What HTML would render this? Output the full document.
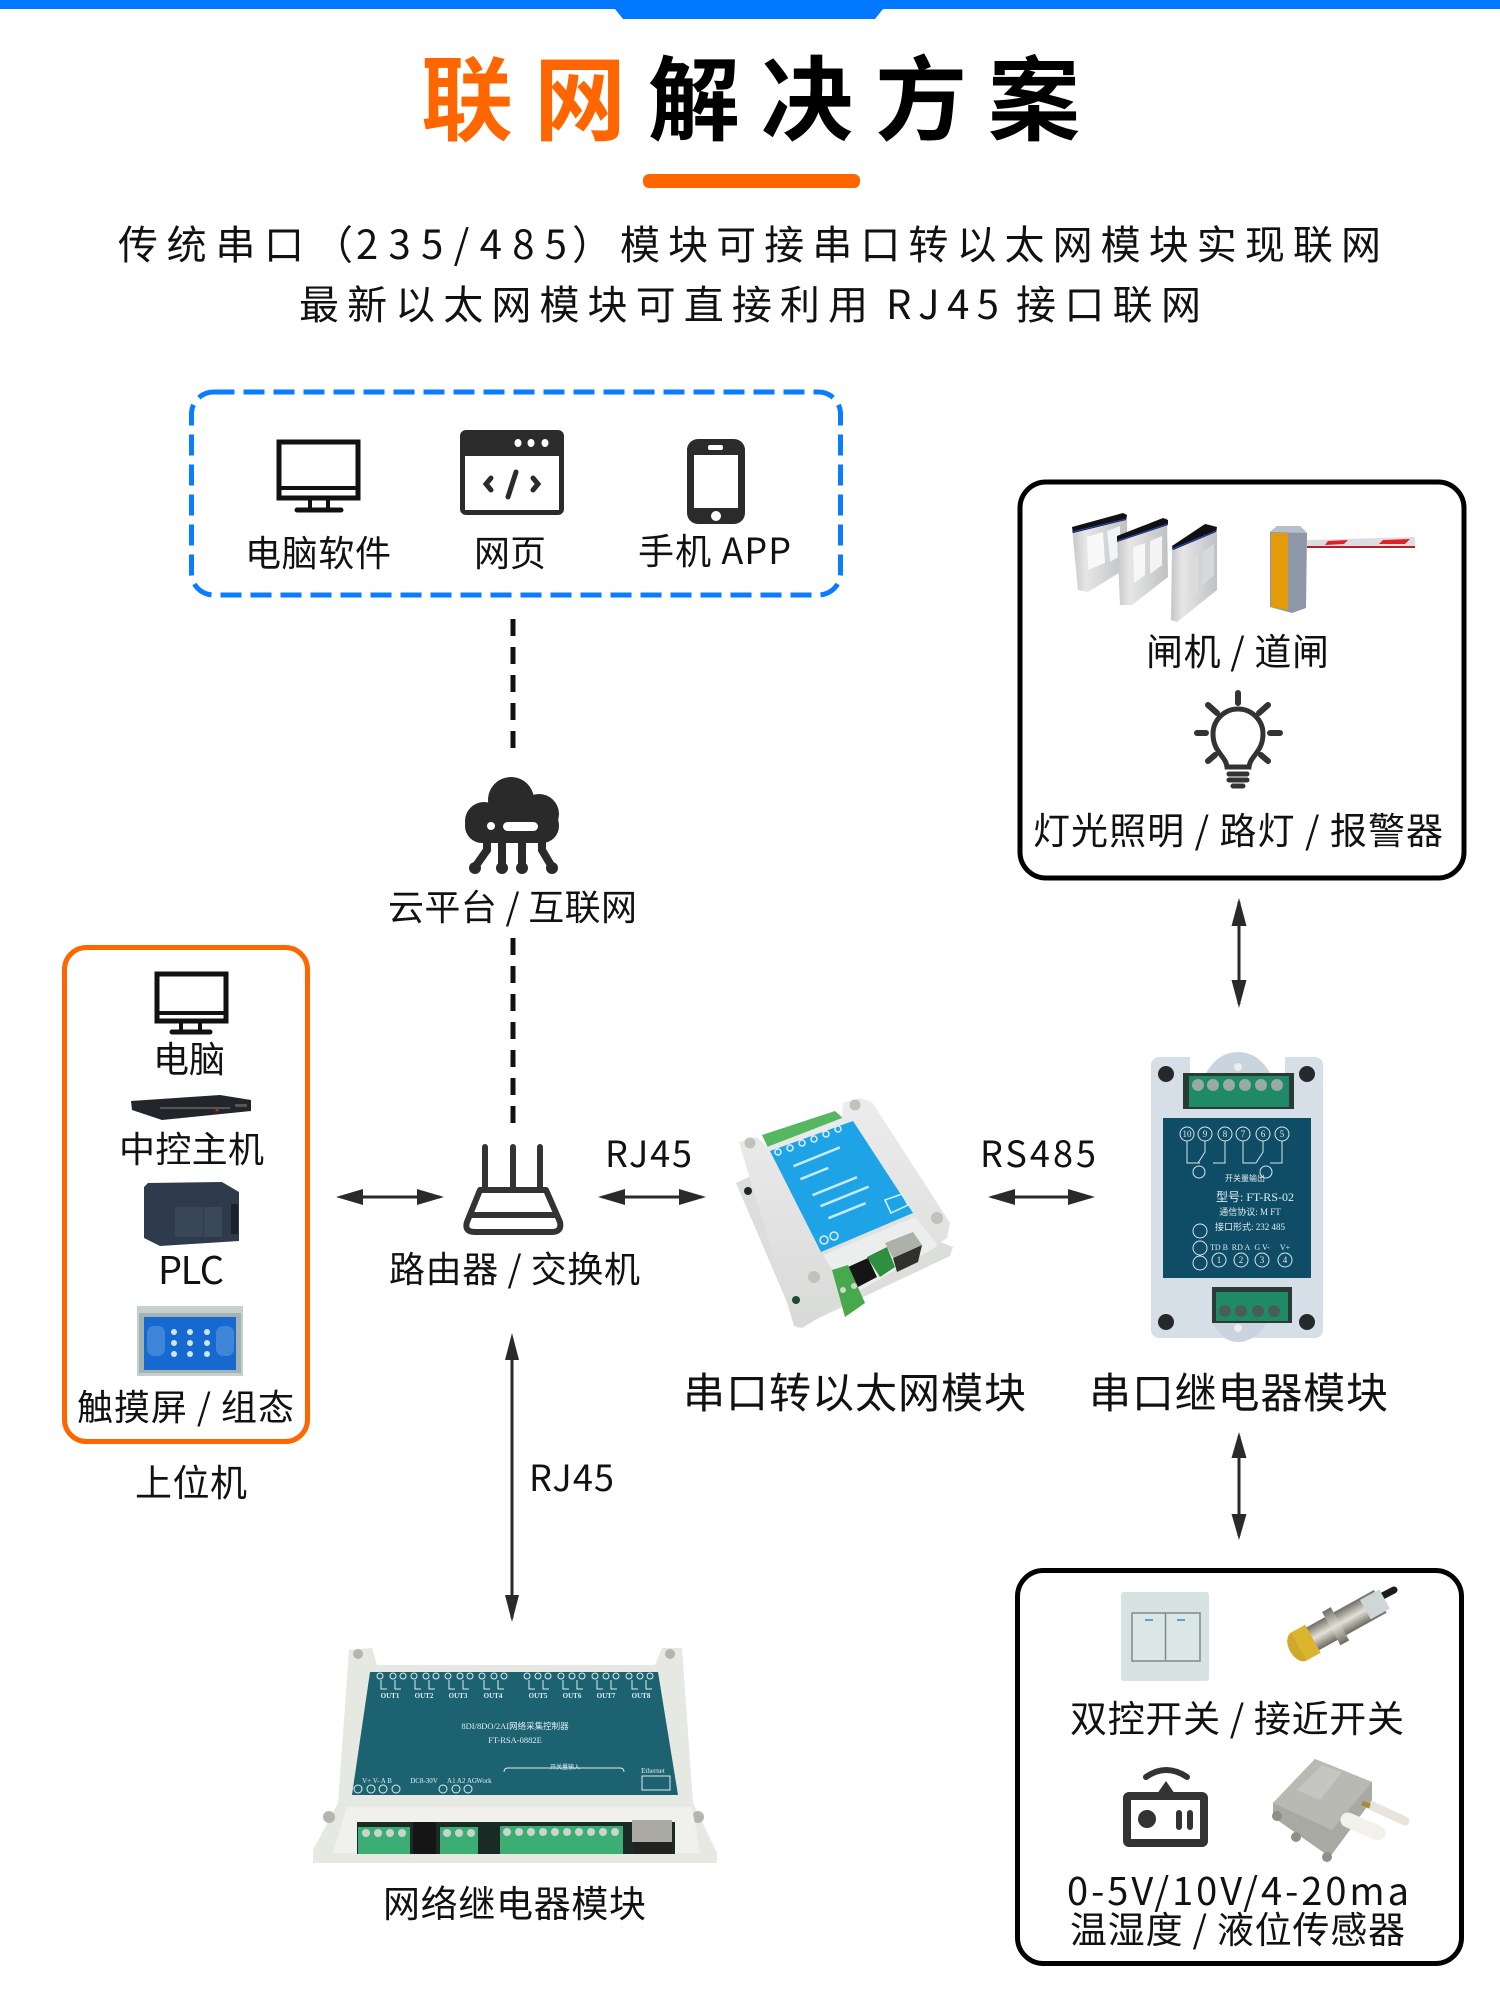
<!DOCTYPE html>
<html lang="zh"><head><meta charset="utf-8"><title>联网解决方案</title>
<style>
html,body{margin:0;padding:0;background:#fff}
svg{display:block}
text{font-family:"Noto Sans CJK SC","Liberation Sans",sans-serif;fill:#111}
.s{font-family:"Liberation Serif","Noto Sans CJK SC",serif;fill:#dfeef0}
</style></head><body>
<svg xmlns="http://www.w3.org/2000/svg" width="1500" height="2000" viewBox="0 0 1500 2000">
<defs>
<linearGradient id="metal" x1="0" y1="0" x2="1" y2="0"><stop offset="0" stop-color="#c4c5c6"/><stop offset=".25" stop-color="#e6e6e6"/><stop offset="1" stop-color="#bfc1c3"/></linearGradient>
<linearGradient id="case" x1="0" y1="0" x2="0" y2="1"><stop offset="0" stop-color="#ececec"/><stop offset="1" stop-color="#d8dad8"/></linearGradient>
<linearGradient id="cyl" x1="0" y1="0" x2="0" y2="1"><stop offset="0" stop-color="#6f6e66"/><stop offset=".5" stop-color="#e4e2d8"/><stop offset="1" stop-color="#6b6a60"/></linearGradient>
</defs>
<rect width="1500" height="2000" fill="#fff"/>

<!-- top bar -->
<rect x="0" y="0" width="1500" height="9" fill="#0078ff"/>
<polygon points="615,9 883,9 875,19 623,19" fill="#0078ff"/>

<!-- title -->
<g font-size="92" font-weight="700" text-anchor="middle">
<text x="467" y="133" style="fill:#ff6600">联</text>
<text x="580" y="133" style="fill:#ff6600">网</text>
<text x="694" y="133" style="fill:#000">解</text>
<text x="807" y="133" style="fill:#000">决</text>
<text x="921" y="133" style="fill:#000">方</text>
<text x="1034" y="133" style="fill:#000">案</text>
</g>
<rect x="643" y="174" width="217" height="14" rx="6" fill="#ff6600"/>
<g font-size="40">
<text x="118" y="259" textLength="186" lengthAdjust="spacing">传统串口</text>
<text x="313" y="259">（</text>
<text x="356" y="259" textLength="211" lengthAdjust="spacing">235/485</text>
<text x="572" y="259">）</text>
<text x="620" y="259" textLength="761" lengthAdjust="spacing">模块可接串口转以太网模块实现联网</text>
<text x="299" y="319" textLength="569" lengthAdjust="spacing">最新以太网模块可直接利用</text>
<text x="886" y="319" textLength="113" lengthAdjust="spacing">RJ45</text>
<text x="1016" y="319" textLength="185" lengthAdjust="spacing">接口联网</text>
</g>

<!-- software box -->
<rect x="191.500" y="392" width="649" height="203" rx="22" fill="none" stroke="#0a7cff" stroke-width="5" stroke-dasharray="21 9"/>
<g fill="none" stroke="#111" stroke-width="5">
<rect x="279" y="442" width="79" height="56"/>
<path d="M279 488H358" stroke-width="4"/>
<path d="M310 499v10M328 499v10" stroke-width="4"/>
<path d="M297 510H341" stroke-width="5" stroke-linecap="round"/>
</g>
<rect x="460" y="430" width="104" height="85" rx="6" fill="#2b2b2b"/>
<rect x="465" y="456" width="94" height="54" fill="#fff"/>
<g fill="#fff"><ellipse cx="518" cy="443" rx="3.500" ry="4"/><ellipse cx="531" cy="443" rx="3.500" ry="4"/><ellipse cx="545" cy="443" rx="3.500" ry="4"/></g>
<g fill="none" stroke="#2b2b2b" stroke-width="5" stroke-linecap="round"><path d="M491 478l-5 6 5 6M533 478l5 6-5 6M516 472l-8 25"/></g>
<rect x="687" y="439" width="58" height="85" rx="11" fill="#2b2b2b"/>
<rect x="694" y="455" width="44" height="53" fill="#fff"/>
<rect x="708" y="445" width="15" height="5" rx="2" fill="#fff"/>
<circle cx="716" cy="516" r="5" fill="#fff"/>
<text x="245" y="566" font-size="36" textLength="146" lengthAdjust="spacing">电脑软件</text>
<text x="474" y="566" font-size="36">网页</text>
<text x="638" y="564" font-size="36" textLength="153" lengthAdjust="spacing">手机 APP</text>

<!-- dashed link -->
<path d="M513 619V755M513 938V1130" stroke="#111" stroke-width="5" stroke-dasharray="17 11" fill="none"/>

<!-- cloud -->
<g fill="#2a2a2a">
<circle cx="484" cy="821" r="19"/><circle cx="511" cy="800" r="23"/><circle cx="539" cy="814" r="20"/>
<rect x="465" y="808" width="94" height="35" rx="17"/>
</g>
<rect x="503" y="822" width="35" height="9" rx="4.500" fill="#fff"/>
<circle cx="491" cy="826" r="4" fill="#fff"/>
<g fill="none" stroke="#2a2a2a" stroke-width="8">
<path d="M487 840v10l-12 17M502 840v28M522 840v28M542 840v10l10 17"/>
</g>
<g fill="#2a2a2a"><circle cx="475" cy="868" r="6"/><circle cx="502" cy="868" r="6"/><circle cx="522" cy="868" r="6"/><circle cx="552" cy="868" r="6"/></g>
<text x="388" y="920" font-size="36" textLength="249" lengthAdjust="spacing">云平台 / 互联网</text>

<!-- left group -->
<rect x="64.500" y="947.500" width="243" height="494" rx="22" fill="none" stroke="#ff6600" stroke-width="5"/>
<g fill="none" stroke="#111" stroke-width="5">
<rect x="157" y="974" width="69" height="47"/>
<path d="M157 1013H226" stroke-width="4"/>
<path d="M181 1022v9M200 1022v9" stroke-width="4"/>
<path d="M172 1032H210" stroke-linecap="round"/>
</g>
<text x="153" y="1072" font-size="36" textLength="72" lengthAdjust="spacing">电脑</text>
<polygon points="131,1101 220,1095 251,1100 251,1111 162,1120 132,1110" fill="#22262a"/>
<g fill="#555"><rect x="160" y="1107" width="70" height="2"/><rect x="235" y="1104" width="12" height="3"/></g>
<circle cx="217" cy="1110" r="1.500" fill="#c22"/>
<text x="119" y="1162" font-size="36" textLength="145" lengthAdjust="spacing">中控主机</text>
<polygon points="144,1187 148,1183 222,1182 239,1192 239,1241 160,1246 144,1238" fill="#2f3b4c"/>
<rect x="175" y="1207" width="28" height="30" fill="#384657"/><rect x="204" y="1207" width="18" height="30" fill="#3a4859"/>
<rect x="231" y="1204" width="7" height="30" fill="#1c222b"/>
<text x="158" y="1284" font-size="38" textLength="66" lengthAdjust="spacing">PLC</text>
<rect x="137" y="1306" width="106" height="70" fill="#c5d0cd"/>
<rect x="139" y="1313" width="102" height="60" fill="#a3b2b3"/>
<rect x="144" y="1317" width="92" height="53" fill="#1569cf"/>
<g fill="#cfe4f8"><circle cx="174" cy="1332" r="3"/><circle cx="190" cy="1332" r="3"/><circle cx="207" cy="1332" r="3"/><circle cx="174" cy="1343" r="3"/><circle cx="190" cy="1343" r="3"/><circle cx="207" cy="1343" r="3"/><circle cx="174" cy="1354" r="3"/><circle cx="190" cy="1354" r="3"/><circle cx="207" cy="1354" r="3"/></g>
<rect x="147" y="1326" width="18" height="30" rx="7" fill="#3f86d8"/><rect x="216" y="1326" width="18" height="30" rx="7" fill="#3f86d8"/>
<text x="77" y="1420" font-size="36" textLength="217" lengthAdjust="spacing">触摸屏 / 组态</text>
<text x="135" y="1496" font-size="37" textLength="112" lengthAdjust="spacing">上位机</text>

<!-- router -->
<g fill="none" stroke="#333" stroke-width="6" stroke-linecap="round" stroke-linejoin="round">
<path d="M485 1147V1190M513 1147V1190M540 1147V1190"/>
<path d="M480 1190H546L560 1222Q562 1232 552 1232H475Q464 1232 467 1222Z"/>
<path d="M472 1215H555"/>
</g>
<text x="389" y="1282" font-size="36" textLength="251" lengthAdjust="spacing">路由器 / 交换机</text>

<!-- arrows -->
<g fill="#2a2a2a" stroke="#2a2a2a">
<path d="M340 1197H440" stroke-width="3"/>
<polygon points="336,1197 363,1189 363,1205" stroke="none"/><polygon points="444,1197 417,1189 417,1205" stroke="none"/>
<path d="M602 1197H702" stroke-width="3"/>
<polygon points="598,1197 625,1189 625,1205" stroke="none"/><polygon points="706,1197 679,1189 679,1205" stroke="none"/>
<path d="M992 1197H1091" stroke-width="3"/>
<polygon points="988,1197 1015,1189 1015,1205" stroke="none"/><polygon points="1095,1197 1068,1189 1068,1205" stroke="none"/>
<path d="M512 1338V1618" stroke-width="3"/>
<polygon points="512,1333 505,1360 519,1360" stroke="none"/><polygon points="512,1622 505,1595 519,1595" stroke="none"/>
<path d="M1239 902V1004" stroke-width="3"/>
<polygon points="1239,898 1231.500,926 1246.500,926" stroke="none"/><polygon points="1239,1008 1231.500,980 1246.500,980" stroke="none"/>
<path d="M1239 1436V1536" stroke-width="3"/>
<polygon points="1239,1432 1231.500,1458 1246.500,1458" stroke="none"/><polygon points="1239,1540 1231.500,1514 1246.500,1514" stroke="none"/>
</g>
<text x="605" y="1167" font-size="36" textLength="87" lengthAdjust="spacing">RJ45</text>
<text x="980" y="1167" font-size="36" textLength="116" lengthAdjust="spacing">RS485</text>
<text x="529" y="1491" font-size="36" textLength="85" lengthAdjust="spacing">RJ45</text>

<!-- ethernet module -->
<polygon points="736,1183 760,1172 953,1247 950,1256 798,1328" fill="#dcdedb"/>
<circle cx="748" cy="1191" r="4" fill="#1d2a22"/>
<polygon points="762,1135 835,1111 845,1120 770,1152" fill="#55b860"/>
<polygon points="739,1142 757,1137 767,1147 842,1118 843,1103 860,1098 872,1102 950,1223 947,1238 802,1328 794,1326" fill="url(#case)"/>
<polygon points="770,1151 853,1121 913,1213 821,1252" fill="#1ea4e6"/>
<g fill="#c6eafb"><rect x="793" y="1165" width="50" height="2.500" transform="rotate(-22 793 1165)"/><rect x="800" y="1178" width="30" height="2.500" transform="rotate(-22 800 1178)"/><rect x="812" y="1194" width="48" height="2.500" transform="rotate(-22 812 1194)"/><rect x="820" y="1205" width="52" height="2.500" transform="rotate(-22 820 1205)"/><rect x="828" y="1217" width="40" height="2.500" transform="rotate(-22 828 1217)"/></g>
<g fill="none" stroke="#d8f0fb" stroke-width="1.500"><polygon points="885,1200 902,1194 908,1205 891,1213"/><circle cx="824" cy="1240" r="4"/><circle cx="834" cy="1236" r="4"/><circle cx="778" cy="1152" r="3"/><circle cx="790" cy="1148" r="3"/><circle cx="802" cy="1143" r="3"/><circle cx="814" cy="1139" r="3"/><circle cx="826" cy="1134" r="3"/><circle cx="838" cy="1129" r="3"/></g>
<g fill="#c2c2bd"><circle cx="750" cy="1143" r="5.500"/><circle cx="855" cy="1105" r="5.500"/><circle cx="937" cy="1218" r="6"/><circle cx="814" cy="1277" r="6"/></g>
<circle cx="796" cy="1300" r="4" fill="#1f4a35"/>
<polygon points="823,1255 915,1217 934,1240 938,1246 850,1296 845,1290" fill="#eceded"/>
<polygon points="893,1258 922,1245 918,1262 897,1272" fill="#30312f"/>
<polygon points="885,1243 913,1232 922,1245 893,1258" fill="#aeb0aa"/>
<polygon points="867,1257 887,1247 895,1267 880,1277" fill="#2d8f40"/>
<polygon points="848,1267 868,1258 877,1277 858,1287" fill="#151515"/>
<polygon points="832,1270 848,1265 865,1303 845,1317" fill="#47a94c"/>
<circle cx="843" cy="1290" r="3" fill="#cfd8cc"/><circle cx="854" cy="1286" r="3" fill="#cfd8cc"/>

<!-- relay module -->
<rect x="1151" y="1057" width="172" height="281" rx="8" fill="#d6dee7"/>
<rect x="1190" y="1048" width="95" height="25" fill="#fff"/>
<path d="M1206 1073Q1218 1052 1238 1052Q1258 1052 1270 1073Z" fill="#cad4de"/>
<path d="M1212 1322Q1222 1342 1238 1342Q1255 1342 1268 1322Z" fill="#cad4de"/>
<circle cx="1238" cy="1067" r="4" fill="#eee"/><circle cx="1238" cy="1328" r="4" fill="#eee"/>
<g fill="#26292c"><circle cx="1166" cy="1074" r="8"/><circle cx="1307" cy="1074" r="8"/><circle cx="1166" cy="1322" r="8"/><circle cx="1307" cy="1322" r="8"/></g>
<rect x="1183" y="1073" width="111" height="36" fill="#2a3a34"/>
<rect x="1189" y="1076" width="100" height="31" fill="#1f8a66"/>
<g fill="#9aa9a5"><circle cx="1198" cy="1085" r="6"/><circle cx="1213" cy="1085" r="6"/><circle cx="1229" cy="1085" r="6"/><circle cx="1245" cy="1085" r="6"/><circle cx="1261" cy="1085" r="6"/><circle cx="1277" cy="1085" r="6"/></g>
<rect x="1163" y="1118" width="148" height="160" fill="#0f4c66"/>
<g fill="none" stroke="#d9e6ea" stroke-width="1"><circle cx="1187" cy="1134" r="7"/><circle cx="1205" cy="1134" r="7"/><circle cx="1225" cy="1134" r="7"/><circle cx="1243" cy="1134" r="7"/><circle cx="1263" cy="1134" r="7"/><circle cx="1282" cy="1134" r="7"/>
<path d="M1187 1141V1163H1200M1205 1141V1152L1198 1163M1225 1141V1163H1213M1243 1141V1163H1256M1263 1141V1152L1256 1163M1282 1141V1163H1270"/>
<circle cx="1199" cy="1172" r="6"/><circle cx="1266" cy="1172" r="6"/>
<circle cx="1219" cy="1260" r="7"/><circle cx="1241" cy="1260" r="7"/><circle cx="1262" cy="1260" r="7"/><circle cx="1285" cy="1260" r="7"/>
<circle cx="1200" cy="1231" r="7"/><circle cx="1200" cy="1248" r="7"/><circle cx="1200" cy="1263" r="7"/></g>
<g font-size="9" text-anchor="middle">
<text class="s" x="1187" y="1137">10</text><text class="s" x="1205" y="1137">9</text><text class="s" x="1225" y="1137">8</text><text class="s" x="1243" y="1137">7</text><text class="s" x="1263" y="1137">6</text><text class="s" x="1282" y="1137">5</text>
<text class="s" x="1219" y="1263">1</text><text class="s" x="1241" y="1263">2</text><text class="s" x="1262" y="1263">3</text><text class="s" x="1285" y="1263">4</text>
<text class="s" x="1255" y="1201" font-size="12">型号: FT-RS-02</text>
<text class="s" x="1245" y="1181" font-size="8">开关量输出</text>
<text class="s" x="1250" y="1215" font-size="9">通信协议: M  FT</text>
<text class="s" x="1250" y="1230" font-size="9">接口形式: 232 485</text>
<text class="s" x="1219" y="1250" font-size="8">TD B</text><text class="s" x="1241" y="1250" font-size="8">RD A</text><text class="s" x="1262" y="1250" font-size="8">G V-</text><text class="s" x="1285" y="1250" font-size="8">V+</text>
</g>
<rect x="1212" y="1287" width="80" height="36" fill="#2a3a34"/>
<rect x="1216" y="1292" width="72" height="29" fill="#1f8a66"/>
<g fill="#4a5c58"><circle cx="1225" cy="1311" r="6"/><circle cx="1241" cy="1311" r="6"/><circle cx="1258" cy="1311" r="6"/><circle cx="1274" cy="1311" r="6"/></g>

<text x="683" y="1408" font-size="42" textLength="343" lengthAdjust="spacing">串口转以太网模块</text>
<text x="1089" y="1408" font-size="42" textLength="299" lengthAdjust="spacing">串口继电器模块</text>

<!-- top-right box -->
<rect x="1020" y="482" width="444" height="396" rx="26" fill="none" stroke="#000" stroke-width="5"/>
<!-- gates -->
<polygon points="1072,528 1123,513 1127,515 1127,568 1088,592 1078,590" fill="url(#metal)"/>
<polygon points="1087,537 1103,532 1105,563 1088,570" fill="#f8f8f8"/>
<polygon points="1107,531 1120,526 1120,556 1110,562" fill="#f2f3f3"/>
<polygon points="1072,527 1123,513 1127,515 1126,520 1073,533" fill="#111"/>
<path d="M1072 532L1126 519" stroke="#2348d8" stroke-width="1"/>
<polygon points="1117,537 1167,518 1168,577 1132,605 1120,605" fill="url(#metal)"/>
<polygon points="1133,547 1145,543 1145,575 1134,583" fill="#f7f7f7"/><polygon points="1150,541 1162,536 1162,565 1150,574" fill="#f3f3f3"/>
<polygon points="1117,536 1163,518 1168,520 1168,525 1117,542" fill="#111"/>
<path d="M1117 541L1168 524" stroke="#2348d8" stroke-width="1"/>
<polygon points="1172,547 1207,524 1217,527 1217,590 1177,622 1171,620" fill="url(#metal)"/>
<polygon points="1190,560 1198,555 1198,592 1190,598" fill="#dcdcdc"/><polygon points="1202,552 1214,544 1214,575 1202,586" fill="#d6d8da"/>
<polygon points="1172,546 1205,524 1217,527 1216,532 1173,550" fill="#111"/>
<path d="M1172 549L1216 531" stroke="#2348d8" stroke-width="1"/>
<!-- barrier -->
<polygon points="1307,540 1415,537 1415,548 1307,547" fill="#dcdde0"/>
<polygon points="1307,546 1415,546 1415,548 1307,548" fill="#b81f24"/>
<polygon points="1328,541 1348,540 1344,544 1325,545" fill="#dd2226"/><polygon points="1383,540 1410,539 1405,544 1379,544" fill="#dd2226"/>
<path d="M1270 532L1277 526H1300L1307 533 1306 608 1292 613 1270 607Z" fill="#8d97a8"/>
<polygon points="1271,533 1288,533 1288,610 1271,607" fill="#e59a0a"/>
<polygon points="1270,532 1277,526 1300,526 1307,533" fill="#b6bfca"/>

<text x="1146" y="665" font-size="37" textLength="183" lengthAdjust="spacing">闸机 / 道闸</text>
<!-- bulb -->
<g fill="none" stroke="#333" stroke-width="5" stroke-linecap="round" transform="translate(0,18)">
<path d="M1238 675V685M1197 715H1206M1270 715H1280M1208 687L1217 695M1268 687L1259 695M1208 743L1215 737M1268 743L1261 737" stroke-width="6"/>
<path d="M1227 749C1226 738 1213 734 1213 716A25 25 0 0 1 1263 716C1263 734 1250 738 1249 749Z"/>
<path d="M1229 756H1247M1229 762H1247M1233 768H1243"/>
</g>
<text x="1033" y="844" font-size="37" textLength="410" lengthAdjust="spacing">灯光照明 / 路灯 / 报警器</text>

<!-- network module -->
<path d="M349 1650L372 1648 377 1665H655L662 1648 682 1648 693 1803 717 1853V1863H313V1850L338 1803Z" fill="#e6e8e2"/>
<g fill="#b5b5b0"><circle cx="358" cy="1654" r="5"/><circle cx="670" cy="1654" r="5"/><circle cx="329" cy="1817" r="6"/><circle cx="698" cy="1817" r="6"/></g>
<polygon points="370,1672 658,1672 678,1795 352,1795" fill="#1d6270"/>
<g text-anchor="middle">
<g font-size="7" font-weight="700"><text class="s" x="390" y="1698">OUT1</text><text class="s" x="424" y="1698">OUT2</text><text class="s" x="458" y="1698">OUT3</text><text class="s" x="493" y="1698">OUT4</text><text class="s" x="538" y="1698">OUT5</text><text class="s" x="572" y="1698">OUT6</text><text class="s" x="606" y="1698">OUT7</text><text class="s" x="641" y="1698">OUT8</text></g>
<text class="s" x="515" y="1729" font-size="8.500">8DI/8DO/2AI网络采集控制器</text>
<text class="s" x="515" y="1743" font-size="8.500">FT-RSA-0882E</text>
<text class="s" x="377" y="1783" font-size="7">V+ V- A B</text>
<text class="s" x="424" y="1783" font-size="7">DC8-30V</text>
<text class="s" x="462" y="1783" font-size="7">A1 A2 AG</text>
<text class="s" x="484" y="1783" font-size="7">Work</text>
<text class="s" x="653" y="1773" font-size="7">Ethernet</text>
<text class="s" x="565" y="1769" font-size="6">开关量输入</text>
</g>
<g fill="none" stroke="#dfeef0" stroke-width="1">
<path d="M381 1680v9h6M395 1680v9h6M415 1680v9h6M429 1680v9h6M449 1680v9h6M463 1680v9h6M484 1680v9h6M498 1680v9h6M529 1680v9h6M543 1680v9h6M563 1680v9h6M577 1680v9h6M597 1680v9h6M611 1680v9h6M632 1680v9h6M646 1680v9h6"/>
<rect x="642" y="1776" width="28" height="14"/>
<path d="M504 1772q0-4 4-4h112q4 0 4 4"/>
</g>
<g fill="none" stroke="#dfeef0" stroke-width="1"><circle cx="358" cy="1789" r="4"/><circle cx="371" cy="1789" r="4"/><circle cx="383" cy="1789" r="4"/><circle cx="396" cy="1789" r="4"/><circle cx="443" cy="1789" r="4"/><circle cx="456" cy="1789" r="4"/><circle cx="468" cy="1789" r="4"/>
<circle cx="380" cy="1676" r="3"/><circle cx="393" cy="1676" r="3"/><circle cx="403" cy="1676" r="3"/><circle cx="414" cy="1676" r="3"/><circle cx="426" cy="1676" r="3"/><circle cx="436" cy="1676" r="3"/><circle cx="448" cy="1676" r="3"/><circle cx="460" cy="1676" r="3"/><circle cx="470" cy="1676" r="3"/><circle cx="482" cy="1676" r="3"/><circle cx="494" cy="1676" r="3"/><circle cx="504" cy="1676" r="3"/><circle cx="527" cy="1676" r="3"/><circle cx="538" cy="1676" r="3"/><circle cx="548" cy="1676" r="3"/><circle cx="561" cy="1676" r="3"/><circle cx="572" cy="1676" r="3"/><circle cx="582" cy="1676" r="3"/><circle cx="595" cy="1676" r="3"/><circle cx="606" cy="1676" r="3"/><circle cx="616" cy="1676" r="3"/><circle cx="629" cy="1676" r="3"/><circle cx="640" cy="1676" r="3"/><circle cx="650" cy="1676" r="3"/></g>
<polygon points="347,1807 692,1807 700,1853 333,1853" fill="#f0f1ec"/>
<rect x="357" y="1822" width="318" height="32" fill="#1a2b26"/>
<rect x="358" y="1827" width="52" height="27" fill="#3cae74"/>
<rect x="440" y="1827" width="38" height="27" fill="#3cae74"/>
<rect x="500" y="1826" width="123" height="28" fill="#3cae74"/>
<g fill="#c9d4ce"><circle cx="366" cy="1833" r="4"/><circle cx="378" cy="1833" r="4"/><circle cx="390" cy="1833" r="4"/><circle cx="402" cy="1833" r="4"/><circle cx="447" cy="1833" r="4"/><circle cx="459" cy="1833" r="4"/><circle cx="471" cy="1833" r="4"/><circle cx="507" cy="1832" r="4"/><circle cx="519" cy="1832" r="4"/><circle cx="531" cy="1832" r="4"/><circle cx="543" cy="1832" r="4"/><circle cx="555" cy="1832" r="4"/><circle cx="567" cy="1832" r="4"/><circle cx="579" cy="1832" r="4"/><circle cx="591" cy="1832" r="4"/><circle cx="603" cy="1832" r="4"/><circle cx="615" cy="1832" r="4"/></g>
<rect x="413" y="1822" width="23" height="32" fill="#151515"/>
<rect x="632" y="1820" width="40" height="22" fill="#aaa9a4"/>
<rect x="634" y="1842" width="38" height="12" fill="#222"/>
<text x="383" y="1917" font-size="37" textLength="263" lengthAdjust="spacing">网络继电器模块</text>

<!-- bottom-right box -->
<rect x="1017.500" y="1570.500" width="444" height="393" rx="26" fill="none" stroke="#000" stroke-width="5"/>
<rect x="1121" y="1592" width="88" height="89" rx="3" fill="#d7e3e3"/>
<rect x="1132" y="1613" width="68" height="48" fill="#dbe6e6" stroke="#7f8a8a" stroke-width="1.500"/>
<path d="M1165.500 1613V1661" stroke="#7f8a8a" stroke-width="1.500"/>
<path d="M1145 1620h8M1177 1620h8" stroke="#5aa9b6" stroke-width="2"/>
<!-- proximity sensor -->
<path d="M1365 1605L1394 1590" stroke="#1c1c1c" stroke-width="7" stroke-linecap="round"/>
<g transform="rotate(-29 1298 1647)">
<rect x="1300" y="1634" width="92" height="26" fill="url(#cyl)"/>
<rect x="1336" y="1628" width="10" height="38" fill="url(#cyl)"/>
<rect x="1375" y="1636" width="22" height="22" fill="#cfd6d8"/>
<ellipse cx="1299" cy="1647" rx="10" ry="16" fill="#d1a92a"/>
<rect x="1299" y="1631" width="16" height="32" fill="#dcb52f"/>
</g>
<text x="1070" y="1732" font-size="37" textLength="334" lengthAdjust="spacing">双控开关 / 接近开关</text>
<!-- remote icon -->
<rect x="1127" y="1796" width="77" height="47" rx="2" fill="none" stroke="#333" stroke-width="8"/>
<path d="M1146 1777Q1166 1763 1187 1777" fill="none" stroke="#333" stroke-width="6" stroke-linecap="round"/>
<polygon points="1166,1781 1157,1794 1175,1794" fill="#333"/>
<circle cx="1147" cy="1819" r="9" fill="#333"/>
<path d="M1179 1813V1827M1190 1813V1827" stroke="#333" stroke-width="6" stroke-linecap="round"/>
<!-- sensor box -->
<path d="M1370 1805L1405 1821" stroke="#e8e4dc" stroke-width="9" stroke-linecap="round"/>
<polygon points="1273,1803 1315,1759 1372,1782 1372,1800 1330,1857 1273,1817" fill="#a9a9a3"/>
<polygon points="1273,1803 1315,1759 1372,1782 1332,1830" fill="#b9b9b3"/>
<polygon points="1297,1790 1322,1765 1342,1772 1320,1800" fill="#c5c6c2"/>
<g fill="#8f8f88"><circle cx="1277" cy="1816" r="5"/><circle cx="1296" cy="1837" r="5"/><circle cx="1327" cy="1857" r="5"/></g>
<path d="M1348 1820L1378 1833" stroke="#f3f1ec" stroke-width="15" stroke-linecap="round"/>
<path d="M1362 1803L1370 1806" stroke="#a88a3a" stroke-width="5"/>
<text x="1067" y="1905" font-size="38" textLength="342" lengthAdjust="spacing">0-5V/10V/4-20ma</text>
<text x="1070" y="1943" font-size="37" textLength="335" lengthAdjust="spacing">温湿度 / 液位传感器</text>
</svg>
</body></html>
